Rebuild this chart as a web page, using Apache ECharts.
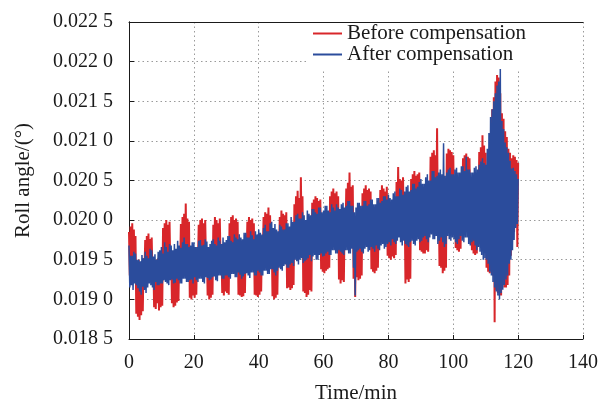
<!DOCTYPE html>
<html>
<head>
<meta charset="utf-8">
<script src="https://cdn.jsdelivr.net/npm/echarts@6/dist/echarts.min.js"></script>
<style>
  html, body { margin: 0; padding: 0; background: #fff; }
  #main { width: 601px; height: 404px; }
</style>
</head>
<body>
<div id="main"></div>
<script>
// samples every 0.25 min, 0 .. 120 min (one row = 5 min)
var sampleStep = 0.25;

// roll angle before compensation (deg)
var beforeComp = [
  0.01985,0.01930,0.01992,0.01928,0.01996,0.01926,0.01988,0.01930,0.01980,0.01882,0.01948,0.01878,0.01950,0.01874,0.01946,0.01880,0.01948,0.01885,0.01952,0.01928,
  0.01975,0.01926,0.01980,0.01928,0.01983,0.01925,0.01976,0.01927,0.01978,0.01926,0.01950,0.01890,0.01948,0.01888,0.01950,0.01895,0.01952,0.01886,0.01948,0.01890,
  0.01958,0.01892,0.01990,0.01934,0.01996,0.01935,0.02000,0.01933,0.01994,0.01935,0.01998,0.01936,0.01958,0.01895,0.01956,0.01890,0.01960,0.01892,0.01956,0.01896,
  0.01958,0.01898,0.01960,0.01936,0.01995,0.01936,0.02004,0.01934,0.02008,0.01938,0.02021,0.01937,0.02002,0.01938,0.01998,0.01902,0.01960,0.01900,0.01962,0.01905,
  0.01964,0.01902,0.01966,0.01906,0.01964,0.01943,0.01994,0.01944,0.02000,0.01944,0.02002,0.01943,0.01996,0.01944,0.02000,0.01945,0.01966,0.01905,0.01964,0.01900,
  0.01965,0.01902,0.01966,0.01906,0.01994,0.01946,0.02004,0.01945,0.02000,0.01945,0.01996,0.01946,0.02002,0.01944,0.01966,0.01908,0.01966,0.01905,0.01964,0.01910,
  0.01968,0.01908,0.01966,0.01906,0.01996,0.01947,0.02004,0.01948,0.02006,0.01948,0.02000,0.01946,0.02002,0.01949,0.01998,0.01906,0.01970,0.01905,0.01968,0.01903,
  0.01972,0.01904,0.01970,0.01908,0.01972,0.01951,0.01998,0.01950,0.02004,0.01950,0.02000,0.01952,0.02002,0.01951,0.01996,0.01906,0.01974,0.01905,0.01972,0.01903,
  0.01974,0.01906,0.01972,0.01910,0.01974,0.01953,0.02004,0.01952,0.02010,0.01954,0.02008,0.01953,0.02016,0.01955,0.02006,0.01954,0.01978,0.01904,0.01976,0.01900,
  0.01980,0.01902,0.01978,0.01906,0.01980,0.01957,0.02004,0.01958,0.02012,0.01958,0.02008,0.01957,0.02006,0.01959,0.02010,0.01914,0.01982,0.01915,0.01980,0.01912,
  0.01990,0.01914,0.01988,0.01918,0.02020,0.01968,0.02030,0.01967,0.02037,0.01968,0.02028,0.01969,0.02054,0.01968,0.02030,0.01910,0.01994,0.01908,0.01992,0.01903,
  0.01994,0.01906,0.01992,0.01912,0.01996,0.01910,0.02022,0.01970,0.02026,0.01971,0.02030,0.01972,0.02028,0.01972,0.02024,0.01973,0.02026,0.01938,0.01998,0.01935,
  0.02002,0.01933,0.02000,0.01936,0.02003,0.01938,0.02000,0.01940,0.02030,0.01976,0.02036,0.01975,0.02040,0.01977,0.02034,0.01978,0.02036,0.01976,0.02030,0.01925,
  0.02002,0.01920,0.02000,0.01924,0.02003,0.01922,0.02000,0.01977,0.02040,0.01978,0.02047,0.01977,0.02060,0.01978,0.02042,0.01979,0.02044,0.01926,0.02002,0.01903,
  0.02004,0.01928,0.02002,0.01924,0.02004,0.01926,0.02002,0.01930,0.02034,0.01978,0.02040,0.01979,0.02044,0.01979,0.02038,0.01980,0.02040,0.01979,0.02036,0.01938,
  0.02006,0.01935,0.02004,0.01933,0.02006,0.01936,0.02004,0.01940,0.02006,0.01981,0.02038,0.01982,0.02044,0.01981,0.02040,0.01982,0.02036,0.01982,0.02042,0.01955,
  0.02008,0.01952,0.02006,0.01950,0.02008,0.01954,0.02006,0.01952,0.02010,0.01956,0.02048,0.01984,0.02067,0.01985,0.02052,0.01985,0.02050,0.01985,0.02054,0.01986,
  0.02020,0.01920,0.02018,0.01925,0.02020,0.01922,0.02018,0.01926,0.02052,0.01990,0.02058,0.01990,0.02062,0.01991,0.02056,0.01991,0.02058,0.01992,0.02060,0.01962,
  0.02022,0.01960,0.02020,0.01958,0.02024,0.01958,0.02022,0.01962,0.02024,0.01960,0.02022,0.01994,0.02080,0.01994,0.02085,0.01994,0.02088,0.01995,0.02082,0.01995,
  0.02116,0.01995,0.02026,0.01942,0.02028,0.01940,0.02026,0.01933,0.02026,0.01936,0.02028,0.01940,0.02084,0.01996,0.02090,0.01996,0.02088,0.01997,0.02086,0.01997,
  0.02082,0.01998,0.02034,0.01965,0.02036,0.01962,0.02034,0.01960,0.02036,0.01964,0.02034,0.01998,0.02078,0.01998,0.02082,0.01998,0.02084,0.01997,0.02080,0.01997,
  0.02078,0.01996,0.02040,0.01962,0.02040,0.01958,0.02038,0.01956,0.02040,0.01958,0.02042,0.01985,0.02086,0.01980,0.02092,0.01976,0.02107,0.01970,0.02094,0.01962,
  0.02085,0.01940,0.02066,0.01935,0.02068,0.01933,0.02070,0.01936,0.02140,0.01930,0.02155,0.01871,0.02175,0.01912,0.02183,0.01908,0.02180,0.01905,0.02160,0.01905,
  0.02135,0.01918,0.02128,0.01915,0.02112,0.01915,0.02105,0.01918,0.02090,0.01930,0.02085,0.01955,0.02078,0.01975,0.02082,0.01985,0.02080,0.01995,0.02076,0.01966,
  0.02072
];

// roll angle after compensation (deg)
var afterComp = [
  0.01968,0.01915,0.01955,0.01918,0.01955,0.01912,0.01960,0.01920,0.01958,0.01918,0.01950,0.01914,0.01950,0.01910,0.01948,0.01906,0.01956,0.01916,0.01952,0.01912,
  0.01960,0.01908,0.01955,0.01915,0.01952,0.01920,0.01964,0.01918,0.01962,0.01915,0.01954,0.01912,0.01957,0.01922,0.01950,0.01918,0.01960,0.01918,0.01962,0.01920,
  0.01966,0.01920,0.01958,0.01924,0.01972,0.01922,0.01966,0.01920,0.01960,0.01918,0.01970,0.01924,0.01968,0.01925,0.01962,0.01920,0.01970,0.01921,0.01964,0.01926,
  0.01974,0.01924,0.01968,0.01920,0.01965,0.01920,0.01972,0.01926,0.01978,0.01926,0.01970,0.01922,0.01970,0.01922,0.01966,0.01924,0.01968,0.01925,0.01972,0.01920,
  0.01972,0.01928,0.01966,0.01924,0.01966,0.01922,0.01974,0.01926,0.01975,0.01926,0.01968,0.01922,0.01969,0.01920,0.01976,0.01928,0.01973,0.01927,0.01966,0.01924,
  0.01970,0.01925,0.01974,0.01928,0.01976,0.01929,0.01970,0.01924,0.01968,0.01923,0.01978,0.01930,0.01974,0.01930,0.01970,0.01926,0.01978,0.01926,0.01972,0.01930,
  0.01975,0.01930,0.01980,0.01928,0.01980,0.01926,0.01974,0.01932,0.01972,0.01932,0.01982,0.01928,0.01978,0.01928,0.01976,0.01934,0.01982,0.01931,0.01978,0.01926,
  0.01976,0.01929,0.01984,0.01932,0.01984,0.01933,0.01978,0.01930,0.01978,0.01927,0.01986,0.01934,0.01981,0.01934,0.01976,0.01930,0.01986,0.01930,0.01982,0.01936,
  0.01988,0.01934,0.01984,0.01930,0.01982,0.01930,0.01990,0.01936,0.01994,0.01936,0.01986,0.01932,0.01986,0.01932,0.01996,0.01938,0.01998,0.01938,0.01990,0.01934,
  0.01995,0.01930,0.01988,0.01936,0.01986,0.01940,0.01994,0.01938,0.01992,0.01936,0.01988,0.01942,0.01988,0.01944,0.01996,0.01940,0.01996,0.01940,0.01992,0.01944,
  0.02004,0.01946,0.01998,0.01942,0.01998,0.01950,0.02006,0.01948,0.02008,0.01944,0.02002,0.01950,0.02002,0.01952,0.02010,0.01946,0.02006,0.01948,0.02000,0.01950,
  0.02012,0.01952,0.02008,0.01956,0.02006,0.01948,0.02014,0.01954,0.02014,0.01956,0.02010,0.01950,0.02008,0.01950,0.02016,0.01956,0.02016,0.01958,0.02010,0.01954,
  0.02012,0.01955,0.02018,0.01958,0.02018,0.01960,0.02012,0.01956,0.02010,0.01956,0.02020,0.01962,0.02016,0.01962,0.02012,0.01958,0.02020,0.01958,0.02016,0.01962,
  0.02014,0.01960,0.02020,0.01958,0.02022,0.01956,0.02016,0.01962,0.02018,0.01962,0.02024,0.01958,0.02024,0.01958,0.02018,0.01964,0.02018,0.01940,0.02010,0.01905,
  0.02016,0.01960,0.02022,0.01962,0.02022,0.01964,0.02018,0.01960,0.02018,0.01958,0.02024,0.01964,0.02024,0.01966,0.02018,0.01960,0.02020,0.01962,0.02026,0.01966,
  0.02026,0.01964,0.02020,0.01960,0.02020,0.01968,0.02028,0.01964,0.02028,0.01962,0.02022,0.01968,0.02024,0.01970,0.02030,0.01964,0.02030,0.01966,0.02026,0.01970,
  0.02032,0.01972,0.02028,0.01968,0.02026,0.01976,0.02034,0.01972,0.02036,0.01970,0.02030,0.01974,0.02030,0.01978,0.02040,0.01972,0.02038,0.01968,0.02032,0.01974,
  0.02036,0.01970,0.02042,0.01968,0.02044,0.01966,0.02036,0.01972,0.02038,0.01974,0.02046,0.01970,0.02046,0.01968,0.02040,0.01974,0.02042,0.01976,0.02048,0.01972,
  0.02052,0.01974,0.02046,0.01978,0.02046,0.01980,0.02054,0.01976,0.02058,0.01972,0.02050,0.01978,0.02050,0.01982,0.02062,0.01976,0.02062,0.01976,0.02054,0.01980,
  0.02056,0.01970,0.02060,0.01974,0.02064,0.01978,0.02058,0.01972,0.02097,0.01966,0.02056,0.01970,0.02060,0.01980,0.02064,0.01976,0.02066,0.01974,0.02058,0.01978,
  0.02058,0.01976,0.02064,0.01972,0.02066,0.01970,0.02060,0.01976,0.02060,0.01980,0.02068,0.01974,0.02068,0.01972,0.02062,0.01978,0.02080,0.01978,0.02064,0.01970,
  0.02064,0.01968,0.02060,0.01972,0.02060,0.01974,0.02066,0.01968,0.02068,0.01962,0.02064,0.01966,0.02070,0.01960,0.02074,0.01956,0.02078,0.01950,0.02072,0.01952,
  0.02070,0.01950,0.02090,0.01945,0.02110,0.01935,0.02130,0.01930,0.02140,0.01922,0.02150,0.01915,0.02160,0.01910,0.02170,0.01905,0.02175,0.01900,0.02193,0.01908,
  0.02125,0.01912,0.02115,0.01918,0.02098,0.01925,0.02092,0.01930,0.02085,0.01945,0.02075,0.01950,0.02065,0.01962,0.02066,0.01975,0.02062,0.01990,0.02058,0.01995,
  0.02052
];

var seriesNames = ['Before compensation', 'After compensation'];
var seriesColors = ['#d8262a', '#2b4c9c'];

function toPoints(values) {
    var pts = [];
    for (var i = 0; i < values.length; i++) {
        pts.push([i * sampleStep, values[i]]);
    }
    return pts;
}

// 0.0195 -> "0.019 5"
function yLabel(v) {
    var s = v.toFixed(4);
    return s.slice(0, 5) + ' ' + s.slice(5);
}

var font = '"Liberation Serif", "Times New Roman", serif';
var ink = '#1a1a1a';
var gridLine = { show: true, lineStyle: { color: '#9a9a9a', type: [1.5, 3], width: 1 } };
var chart = echarts.init(document.getElementById('main'), null, { renderer: 'canvas' });

var option = {
    animation: false,
    backgroundColor: '#fff',
    grid: { left: 129, right: 18, top: 22, bottom: 65, show: false, outerBoundsMode: 'none' },
    legend: {
        orient: 'vertical',
        left: 306,
        top: 23,
        padding: [0, 54, 4, 7],
        itemGap: 0,
        itemWidth: 29,
        itemHeight: 2,
        icon: 'rect',
        backgroundColor: '#fff',
        textStyle: { fontFamily: font, fontSize: 21, color: ink, lineHeight: 20 },
        data: seriesNames
    },
    xAxis: [{
        type: 'value',
        min: 0, max: 140, interval: 20,
        name: 'Time/min',
        nameLocation: 'middle',
        nameGap: 44,
        nameTextStyle: { fontFamily: font, fontSize: 21, color: ink },
        axisLine: { show: true, lineStyle: { color: ink, width: 1 } },
        axisTick: { show: true, inside: true, length: 4, lineStyle: { color: ink } },
        axisLabel: { fontFamily: font, fontSize: 20, color: ink, margin: 14 },
        splitLine: gridLine
    }, {
        type: 'value', position: 'top',
        min: 0, max: 140, interval: 20,
        axisLine: { show: true, lineStyle: { color: ink, width: 1 } },
        axisTick: { show: false }, axisLabel: { show: false }, splitLine: { show: false }
    }],
    yAxis: [{
        type: 'value',
        min: 0.0185, max: 0.0225, interval: 0.0005,
        name: 'Roll angle/(°)',
        nameLocation: 'middle',
        nameGap: 95,
        nameTextStyle: { fontFamily: font, fontSize: 21, color: ink },
        axisLine: { show: true, lineStyle: { color: ink, width: 1 } },
        axisTick: { show: true, inside: true, length: 5, lineStyle: { color: ink } },
        axisLabel: { fontFamily: font, fontSize: 20, color: ink, margin: 16, formatter: yLabel },
        splitLine: gridLine
    }, {
        type: 'value', position: 'right',
        min: 0.0185, max: 0.0225, interval: 0.0005,
        axisLine: { show: true, lineStyle: { color: ink, width: 1 } },
        axisTick: { show: false }, axisLabel: { show: false }, splitLine: { show: false }
    }],
    series: [{
        name: seriesNames[0],
        type: 'line',
        symbol: 'none',
        color: seriesColors[0],
        lineStyle: { width: 2, color: seriesColors[0] },
        data: toPoints(beforeComp)
    }, {
        name: seriesNames[1],
        type: 'line',
        symbol: 'none',
        color: seriesColors[1],
        lineStyle: { width: 1.5, color: seriesColors[1] },
        data: toPoints(afterComp)
    }]
};

chart.setOption(option);
</script>
</body>
</html>
